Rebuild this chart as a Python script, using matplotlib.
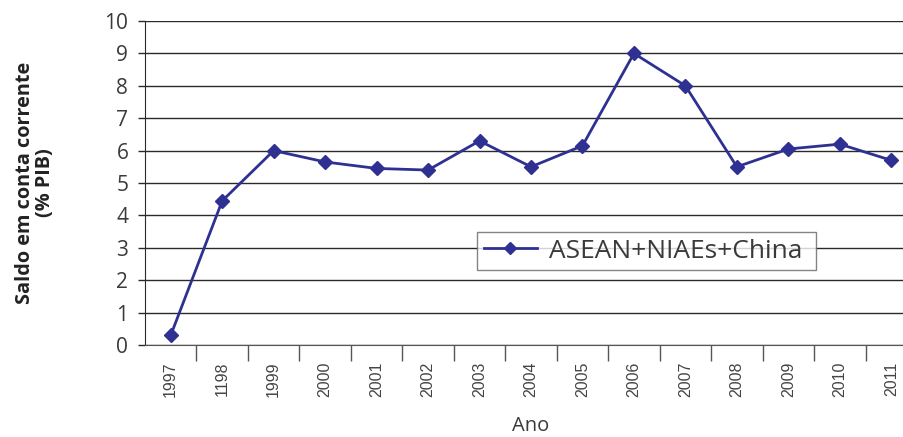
import matplotlib
matplotlib.use("Agg")
import matplotlib.pyplot as plt
from matplotlib.lines import Line2D

# Saldo em conta corrente, ASEAN+NIAEs+China
anos = ['1997', '1198', '1999', '2000', '2001', '2002', '2003', '2004',
        '2005', '2006', '2007', '2008', '2009', '2010', '2011']
saldo = [0.3, 4.45, 6.0, 5.65, 5.45, 5.4, 6.3, 5.5,
         6.15, 9.0, 8.0, 5.5, 6.05, 6.2, 5.7]
serie = 'ASEAN+NIAEs+China'

cor = '#2e3192'
cinza = '#3a3a3a'
plt.rcParams['font.family'] = ['Open Sans', 'DejaVu Sans']

fig = plt.figure(figsize=(9.04, 4.37), dpi=100)
ax = fig.add_axes([0.1604, 0.2105, 0.854, 0.7414])

x = list(range(len(anos)))
ax.plot(x, saldo, '-', color=cor, lw=2.0, marker='D', ms=7.5,
        mfc=cor, mec=cor, zorder=3)

ax.set_xlim(-0.5, len(anos) - 0.5)
ax.set_ylim(0, 10)
ax.set_yticks(range(0, 11))
ax.yaxis.grid(True, color='#2a2a2a', lw=1.0)
ax.set_axisbelow(True)
for s in ['top', 'right']:
    ax.spines[s].set_visible(False)
ax.spines['left'].set_color('#2a2a2a')
ax.spines['bottom'].set_color('#555555')
ax.tick_params(axis='y', length=5, width=1, color='#2a2a2a', pad=7,
               labelsize=15, labelcolor=cinza)

# separators between years as major ticks, year labels on minor ticks
ax.set_xticks([i + 0.5 for i in x[:-1]])
ax.set_xticklabels([])
ax.tick_params(axis='x', which='major', length=11.5, width=1, color='#555555')
ax.set_xticks(x, minor=True)
ax.set_xticklabels(anos, minor=True, rotation=90, va='top',
                   family=['Liberation Sans Narrow', 'Liberation Sans'],
                   fontsize=11.5, color='#444444')
ax.tick_params(axis='x', which='minor', length=0, pad=12)

ax.set_xlabel('Ano', fontsize=14.5, color=cinza)
ax.xaxis.set_label_coords(0.5, -0.218)
ax.set_ylabel('Saldo em conta corrente\n(% PIB)', fontsize=14.3,
              fontweight='bold', color='#222222', linespacing=1.0)
ax.yaxis.set_label_coords(-0.1166, 0.5)

h = Line2D([], [], color=cor, lw=2.0, marker='D', ms=6.5, mfc=cor, mec=cor)
leg = ax.legend([h], [serie + ' '], loc='upper left',
                bbox_to_anchor=(0.43, 0.349), borderaxespad=0, fontsize=18.9,
                frameon=True, fancybox=False, handlelength=2.05,
                handletextpad=0.45, borderpad=0.25, labelcolor=cinza)
leg.get_frame().set_edgecolor('#666666')
leg.get_frame().set_linewidth(1.0)

fig.savefig('out.png', dpi=100)
